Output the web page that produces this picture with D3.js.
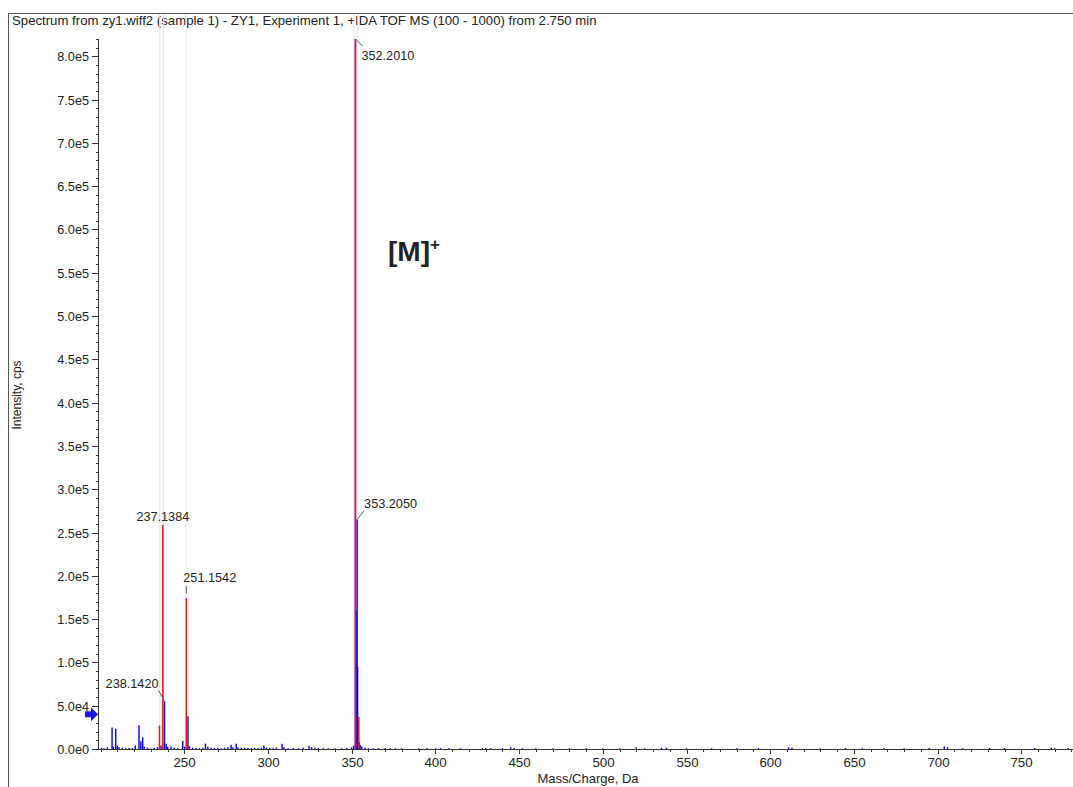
<!DOCTYPE html>
<html>
<head>
<meta charset="utf-8">
<script src="https://cdnjs.cloudflare.com/ajax/libs/d3/7.8.5/d3.min.js"></script>
<style>
  body { margin: 0; background: #fff; }
  text { font-family: "Liberation Sans", Arial, sans-serif; fill: #222; }
</style>
</head>
<body>
<svg width="1073" height="787"></svg>
<script>
// spectrum data

// centroid (red) peaks
var redMz  = [235.13, 237.1384, 251.1542, 352.2010, 354.20];
var redInt = [27000, 259000, 174000, 830000, 37000];

// profile (blue) peaks and baseline noise
var blueMz = [200.5, 202, 204, 206.8, 207.5, 209, 210, 211, 213, 215, 217, 219, 220.7, 222.9, 224, 225.1, 226, 228, 230, 232, 234,
  236.1, 238.142, 239.1, 240, 242, 244, 246, 249, 250.2, 252.15, 253.1, 255, 257, 259, 261, 262.6, 264, 266, 268, 270, 272, 274,
  276, 277.9, 279, 281, 282, 284, 286, 288, 290, 292, 294, 296, 297.5, 299, 301, 303, 305, 308.4, 309.5, 312, 315, 318, 321,
  324.5, 326, 328, 330, 333, 336, 340, 344, 347, 350, 351.2, 352.2, 352.6, 353.205, 353.5, 354.4, 355, 356, 358, 360, 363, 366,
  370, 373, 376, 380, 390, 395, 400, 403, 408, 415, 428, 430, 433, 440, 445, 447, 452, 460, 470, 480, 490, 500, 510, 520, 525,
  535, 538, 550, 565, 580, 593, 611, 613, 630, 645, 655, 668, 680, 695, 704, 706, 715, 731, 740, 758, 768, 770, 778];
var blueInt = [1500, 1000, 2000, 24700, 3000, 23500, 4000, 2000, 1500, 1000, 1500, 1200, 4000, 27400, 9000, 13500, 3000, 1500, 1000, 1200, 2000,
  4000, 55000, 6000, 2500, 3000, 1500, 1200, 9200, 2500, 37700, 3000, 1500, 1200, 1000, 1500, 6200, 2500, 1500, 1200, 1500, 1000, 1500,
  2000, 5000, 2000, 6000, 2000, 1500, 1500, 1200, 1000, 1500, 1200, 1500, 4000, 1500, 1200, 1000, 1500, 6000, 2000, 1000, 1200, 1000, 1500,
  3500, 2000, 1500, 1200, 1000, 800, 1000, 800, 1200, 2000, 4000, 820000, 160000, 265000, 95000, 8000, 5000, 3000, 1500, 1000, 800, 1000,
  1200, 1000, 800, 1000, 800, 1000, 900, 1000, 800, 800, 1000, 1200, 1000, 900, 2000, 1200, 800, 800, 800, 800, 800, 800, 800, 1800, 800,
  1500, 1500, 800, 800, 800, 1200, 1800, 1500, 800, 1200, 800, 1200, 800, 1200, 3000, 2000, 800, 1200, 1200, 1200, 1500, 1000, 1200];

// faint highlight lines around the labelled peaks
var guideMz = [235.3, 237.6, 251.0, 351.4, 353.6];

// peak annotations
var peakLabels = ["352.2010", "353.2050", "237.1384", "251.1542", "238.1420"];
var peakLabelMz = [352.2010, 353.2050, 237.1384, 251.1542, 238.1420];
var peakLabelInt = [830000, 265000, 259000, 174000, 55000];

var xTickValues = [250, 300, 350, 400, 450, 500, 550, 600, 650, 700, 750];
var threshold = 40000;

var svg = d3.select("svg"),
    width = +svg.attr("width"),
    height = +svg.attr("height");

var x = d3.scaleLinear().domain([198.4, 780.9]).range([98, 1073]);
var y = d3.scaleLinear().domain([0, 820000]).range([749, 39]).clamp(true);

var yFmt = function (v) { return d3.format(".1e")(v).replace("+", ""); };

// outer frame + title
svg.append("path")
    .attr("d", "M8.5," + height + "V13.5H" + width)
    .attr("fill", "none")
    .attr("stroke", "#555")
    .attr("stroke-width", 1);

svg.append("text")
    .attr("x", 12)
    .attr("y", 25)
    .attr("font-size", "13.2px")
    .attr("fill", "#111")
    .text("Spectrum from zy1.wiff2 (sample 1) - ZY1, Experiment 1, +IDA TOF MS (100 - 1000) from 2.750 min");

// pale guide lines
svg.append("g").selectAll("line")
    .data(guideMz)
    .enter().append("line")
    .attr("x1", function (d) { return x(d); })
    .attr("x2", function (d) { return x(d); })
    .attr("y1", 14)
    .attr("y2", y(0))
    .attr("stroke", "#ffd6d6")
    .attr("stroke-width", 1);

// blue profile
svg.append("g").selectAll("line")
    .data(blueMz)
    .enter().append("line")
    .attr("x1", function (d) { return x(d); })
    .attr("x2", function (d) { return x(d); })
    .attr("y1", y(0))
    .attr("y2", function (d, i) { return y(blueInt[i]); })
    .attr("stroke", "#0000ff")
    .attr("stroke-width", 1.4);

// red centroids
svg.append("g").selectAll("line")
    .data(redMz)
    .enter().append("line")
    .attr("x1", function (d) { return x(d); })
    .attr("x2", function (d) { return x(d); })
    .attr("y1", y(0))
    .attr("y2", function (d, i) { return y(redInt[i]); })
    .attr("stroke", "#ff1010")
    .attr("stroke-width", 1.5);

// y axis
var yAxis = svg.append("g").attr("class", "yaxis");
yAxis.append("line")
    .attr("x1", 98.5).attr("x2", 98.5)
    .attr("y1", 39).attr("y2", y(0))
    .attr("stroke", "#333");
yAxis.selectAll(".minor")
    .data(d3.range(0, 820001, 10000))
    .enter().append("line")
    .attr("x1", 96).attr("x2", 98)
    .attr("y1", function (d) { return Math.round(y(d)) + 0.5; })
    .attr("y2", function (d) { return Math.round(y(d)) + 0.5; })
    .attr("stroke", "#333");
var yMajor = yAxis.selectAll(".major")
    .data(d3.range(0, 800001, 50000))
    .enter().append("g")
    .attr("transform", function (d) { return "translate(0," + (Math.round(y(d)) + 0.5) + ")"; });
yMajor.append("line")
    .attr("x1", 92).attr("x2", 98)
    .attr("stroke", "#333");
yMajor.append("text")
    .attr("x", 89)
    .attr("dy", "0.35em")
    .attr("text-anchor", "end")
    .attr("font-size", "12.7px")
    .text(yFmt);

svg.append("text")
    .attr("transform", "translate(21,395) rotate(-90)")
    .attr("text-anchor", "middle")
    .attr("font-size", "12px")
    .text("Intensity, cps");

// x axis
var xAxis = svg.append("g").attr("class", "xaxis");
xAxis.append("line")
    .attr("x1", 98).attr("x2", width)
    .attr("y1", y(0) + 0.5).attr("y2", y(0) + 0.5)
    .attr("stroke", "#333");
xAxis.selectAll(".minor")
    .data(d3.range(200, 781, 10))
    .enter().append("line")
    .attr("x1", function (d) { return Math.round(x(d)) + 0.5; })
    .attr("x2", function (d) { return Math.round(x(d)) + 0.5; })
    .attr("y1", y(0)).attr("y2", y(0) + 3)
    .attr("stroke", "#333");
var xMajor = xAxis.selectAll(".major")
    .data(xTickValues)
    .enter().append("g")
    .attr("transform", function (d) { return "translate(" + (Math.round(x(d)) + 0.5) + ",0)"; });
xMajor.append("line")
    .attr("y1", y(0)).attr("y2", y(0) + 5)
    .attr("stroke", "#333");
xMajor.append("text")
    .attr("y", 767)
    .attr("text-anchor", "middle")
    .attr("font-size", "13.3px")
    .text(function (d) { return d; });

svg.append("text")
    .attr("x", 588)
    .attr("y", 783)
    .attr("text-anchor", "middle")
    .attr("font-size", "13px")
    .text("Mass/Charge, Da");

// threshold arrow
var ay = y(threshold);
svg.append("path")
    .attr("d", "M85," + (ay - 3) + "H91V" + (ay - 7) + "L98," + ay + "L91," + (ay + 7) + "V" + (ay + 3) + "H85Z")
    .attr("fill", "#1a1ae6");

// peak labels: [dx leader start, dy, dx end, dy end, text x, text y, anchor]
var labelLayout = [
  [0, 0, 7, 7, 6, 21, "start"],
  [0, 0, 7, -9, 7, -12, "start"],
  [0, 0, 0, 0, 0, -4, "middle"],
  [0, -5, 0, -12, -3, -16, "start"],
  [0, 0, -6, -11, -6, -13, "end"]
];
var ann = svg.append("g").attr("class", "annotations");
peakLabels.forEach(function (t, i) {
    var px = x(peakLabelMz[i]), py = y(peakLabelInt[i]), L = labelLayout[i];
    if (L[0] !== L[2] || L[1] !== L[3]) {
        ann.append("line")
            .attr("x1", px + L[0]).attr("y1", py + L[1])
            .attr("x2", px + L[2]).attr("y2", py + L[3])
            .attr("stroke", "#555");
    }
    ann.append("text")
        .attr("x", px + L[4])
        .attr("y", py + L[5])
        .attr("text-anchor", L[6])
        .attr("font-size", "12.7px")
        .text(t);
});

// [M]+ annotation
var m = svg.append("text")
    .attr("x", 388)
    .attr("y", 261)
    .attr("font-family", "'Open Sans', sans-serif")
    .attr("font-weight", "bold")
    .attr("font-size", "28px")
    .attr("fill", "#000");
m.append("tspan").text("[M]");
m.append("tspan")
    .attr("font-size", "17px")
    .attr("dy", -11)
    .text("+");
</script>
</body>
</html>
